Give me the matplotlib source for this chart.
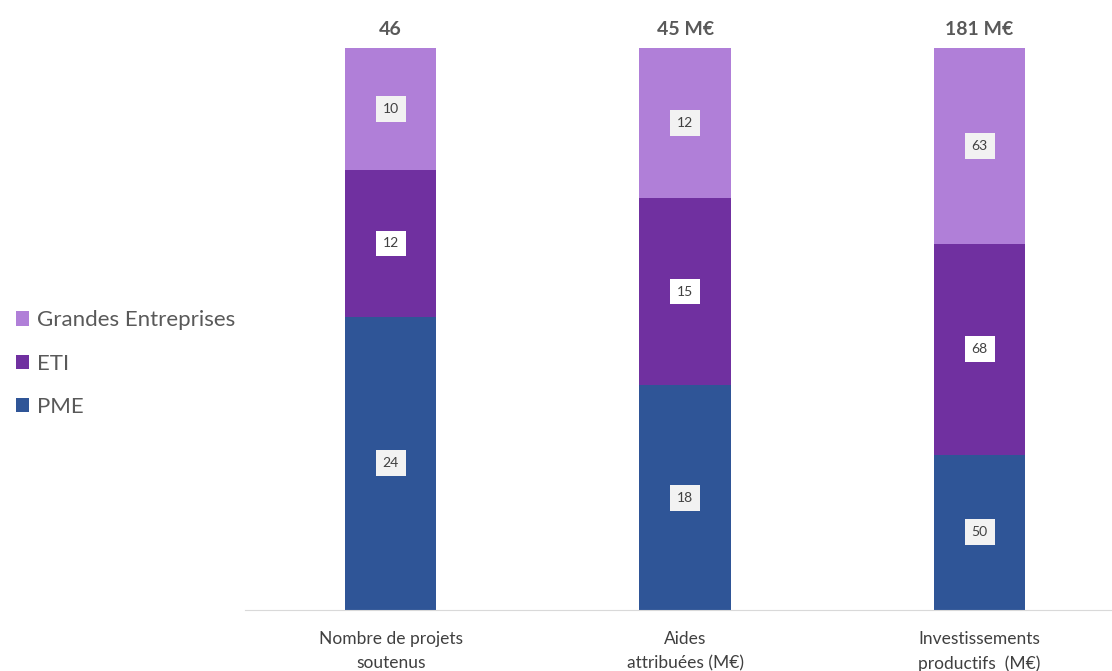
import numpy as np
import matplotlib.pyplot as plt

plt.rcParams['font.family'] = ['Lato', 'DejaVu Sans']

categories = ['Nombre de projets\nsoutenus', 'Aides\nattribuées (M€)', 'Investissements\nproductifs  (M€)']
totals = ['46', '45 M€', '181 M€']
pme = np.array([24, 18, 50])
eti = np.array([12, 15, 68])
ge = np.array([10, 12, 63])

c_pme = '#2f5597'
c_eti = '#7030a0'
c_ge = '#b07fd8'

sums = pme + eti + ge
p_pme = pme / sums
p_eti = eti / sums
p_ge = ge / sums

fig = plt.figure(figsize=(11.12, 6.71), dpi=100)
ax = fig.add_axes([0.2203, 0.0909, 0.7797, 0.8376])

x = np.arange(len(categories))
w = 0.31
b1 = ax.bar(x, p_pme, w, color=c_pme, label='PME')
b2 = ax.bar(x, p_eti, w, bottom=p_pme, color=c_eti, label='ETI')
b3 = ax.bar(x, p_ge, w, bottom=p_pme + p_eti, color=c_ge, label='Grandes Entreprises')

box = dict(boxstyle='square,pad=0.5', facecolor='#f2f2f2', edgecolor='none')
wbox = dict(boxstyle='square,pad=0.5', facecolor='white', edgecolor='none')
for i in range(len(x)):
    ax.text(x[i], p_pme[i] / 2, str(pme[i]), ha='center', va='center', fontsize=10, color='#404040', bbox=box)
    ax.text(x[i], p_pme[i] + p_eti[i] / 2, str(eti[i]), ha='center', va='center', fontsize=10,
            color='#404040', bbox=wbox)
    ax.text(x[i], p_pme[i] + p_eti[i] + p_ge[i] / 2, str(ge[i]), ha='center', va='center', fontsize=10,
            color='#404040', bbox=box)
    ax.text(x[i], 1.018, totals[i], ha='center', va='bottom', fontsize=14, fontweight='bold', color='#595959')

ax.set_xlim(-0.495, 2.45)
ax.set_ylim(0, 1)
ax.set_xticks(x)
ax.set_xticklabels(categories, fontsize=12.5, color='#404040', linespacing=1.65)
ax.tick_params(axis='x', length=0, pad=15)
ax.set_yticks([])
for s in ['top', 'right', 'left']:
    ax.spines[s].set_visible(False)
ax.spines['bottom'].set_color('#d9d9d9')

handles = [b3, b2, b1]
fig.legend(handles, [h.get_label() for h in handles], loc='center left', bbox_to_anchor=(-0.004, 0.458),
           frameon=False, fontsize=16, handlelength=0.6, handleheight=0.6, handletextpad=0.35,
           labelspacing=1.05, labelcolor='#595959')

plt.savefig('out.png', dpi=100)
